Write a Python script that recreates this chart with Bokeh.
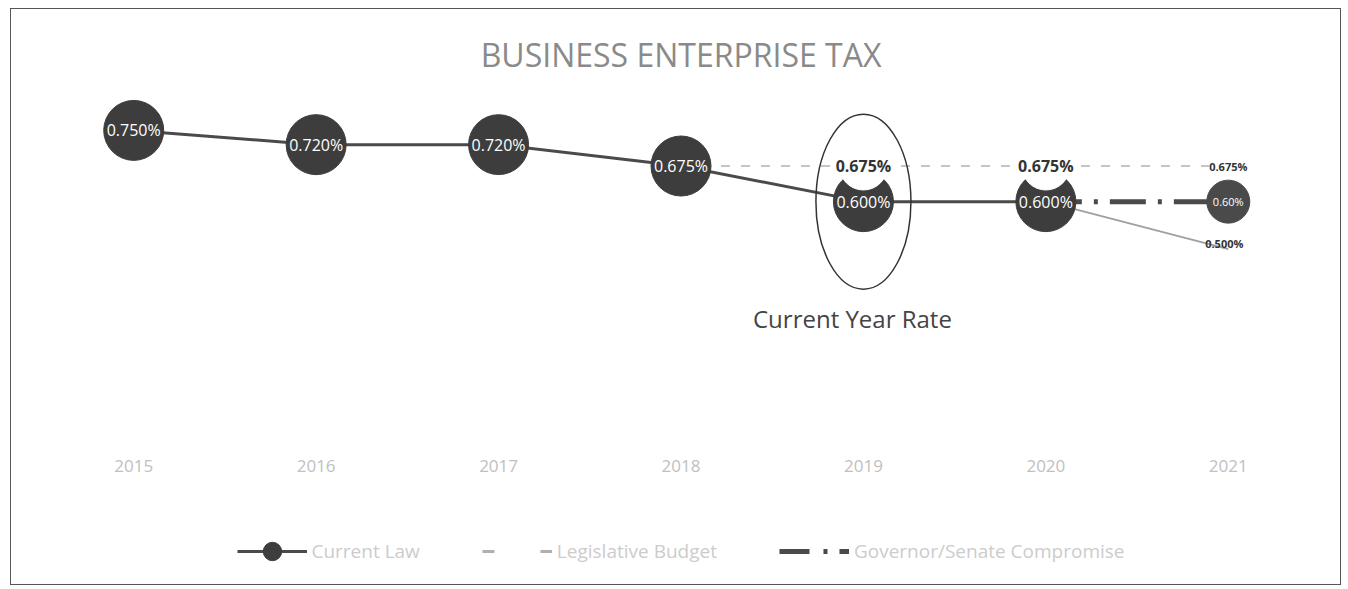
from bokeh.plotting import figure
from bokeh.layouts import column
from bokeh.models import ColumnDataSource, LabelSet, Legend, LegendItem
from bokeh.core.properties import value
from bokeh.embed import file_html
from bokeh.resources import INLINE

# ---- data ----
years = ["2015", "2016", "2017", "2018", "2019", "2020", "2021"]
current_law = [0.750, 0.720, 0.720, 0.675, 0.600, 0.600, 0.500]
legislative = [None, None, None, 0.675, 0.675, 0.675, 0.675]
governor = [None, None, None, None, None, 0.600, 0.600]
series_names = ["Current Law", "Legislative Budget", "Governor/Senate Compromise"]
title_text = "BUSINESS ENTERPRISE TAX"
note_text = "Current Year Rate"
note_year = "2019"

FONT = "Open Sans"
F = value(FONT)
DARK = "#3d3d3d"
LINE_DARK = "#4a4a4a"
W = 1329

# styles shared by plot and legend
cl_line_kw = dict(line_color=LINE_DARK, line_width=3)
cl_pt_kw = dict(marker="circle", fill_color=DARK, line_color=DARK)
leg_line_kw = dict(line_color="#c4c4c4", line_width=2, line_dash="9 11")
leg_pt_kw = dict(marker="circle", fill_color="white", line_color="white")
gov_line_kw = dict(line_color=LINE_DARK, line_width=5, line_dash="36 12 4 12")
gov_pt_kw = dict(marker="circle", fill_color=LINE_DARK, line_color=LINE_DARK)

p = figure(x_range=years, y_range=(0.076, 0.834), width=W, height=478,
           output_backend="svg", toolbar_location=None,
           min_border_left=31, min_border_right=21, min_border_top=81, min_border_bottom=37)
p.title.text = title_text
p.title.align = "center"
p.title.text_font = FONT
p.title.text_font_size = "32px"
p.title.text_font_style = "normal"
p.title.text_color = "#8a8a8a"
p.title.standoff = 30

p.yaxis.visible = False
p.xaxis.axis_line_color = None
p.xaxis.major_tick_line_color = None
p.xaxis.minor_tick_line_color = None
p.xaxis.major_label_text_color = "#c0c0c0"
p.xaxis.major_label_text_font = FONT
p.xaxis.major_label_text_font_size = "17px"
p.xaxis.major_label_standoff = 3
p.xgrid.grid_line_color = None
p.ygrid.grid_line_color = None
p.outline_line_color = None

# legislative budget (dashed light grey)
leg_x = [y for y, v in zip(years, legislative) if v is not None]
leg_y = [v for v in legislative if v is not None]
p.line(leg_x, leg_y, **leg_line_kw)

# governor/senate compromise (dash-dot dark)
gov_x = [y for y, v in zip(years, governor) if v is not None]
gov_y = [v for v in governor if v is not None]
p.line(gov_x, gov_y, **gov_line_kw)

# current law: tail to 2021 lighter, main line with markers
p.line(years[5:], current_law[5:], line_color="#a0a0a0", line_width=2)
p.line(years[:6], current_law[:6], **cl_line_kw)
p.scatter(years[:6], current_law[:6], size=60, **cl_pt_kw)
p.scatter(gov_x[-1:], gov_y[-1:], size=43, **gov_pt_kw)
# legislative markers (white) over the current-law circles
p.scatter(leg_x[1:3], leg_y[1:3], size=48, **leg_pt_kw)

# annotation ellipse + text
idx = years.index(note_year)
p.ellipse(x=[note_year], y=[current_law[idx]], width=95, height=175,
          width_units="screen", height_units="screen",
          fill_color=None, line_color="#333333", line_width=1.5)
p.text(x=[note_year], y=[current_law[idx]], text=[note_text], x_offset=-11, y_offset=117,
       text_font=F, text_font_size="24px", text_color="#444444",
       text_align="center", text_baseline="middle")

# labels
cl_src = ColumnDataSource(dict(x=years[:6], y=current_law[:6],
                               t=[f"{v:.3f}%" for v in current_law[:6]]))
p.add_layout(LabelSet(x="x", y="y", text="t", source=cl_src, text_align="center",
                      text_baseline="middle", text_color="white", text_font=F,
                      text_font_size="16px"))
tail_src = ColumnDataSource(dict(x=years[6:], y=current_law[6:],
                                 t=[f"{v:.3f}%" for v in current_law[6:]]))
p.add_layout(LabelSet(x="x", y="y", text="t", source=tail_src, text_align="center",
                      text_baseline="middle", text_color="#333333", text_font=F,
                      text_font_size="11px", text_font_style="bold", x_offset=-4, y_offset=6))
leg_src = ColumnDataSource(dict(x=leg_x[1:3], y=leg_y[1:3],
                                t=[f"{v:.3f}%" for v in leg_y[1:3]]))
p.add_layout(LabelSet(x="x", y="y", text="t", source=leg_src, text_align="center",
                      text_baseline="middle", text_color="#333333", text_font=F,
                      text_font_size="16px", text_font_style="bold"))
leg_src2 = ColumnDataSource(dict(x=leg_x[3:], y=leg_y[3:],
                                 t=[f"{v:.3f}%" for v in leg_y[3:]]))
p.add_layout(LabelSet(x="x", y="y", text="t", source=leg_src2, text_align="center",
                      text_baseline="middle", text_color="#333333", text_font=F,
                      text_font_size="11px", text_font_style="bold",
                      background_fill_color="white"))
gov_src = ColumnDataSource(dict(x=gov_x[-1:], y=gov_y[-1:],
                                t=[f"{v:.2f}%" for v in gov_y[-1:]]))
p.add_layout(LabelSet(x="x", y="y", text="t", source=gov_src, text_align="center",
                      text_baseline="middle", text_color="white", text_font=F,
                      text_font_size="11px"))

# legend strip (own small figure; proxy glyphs lie outside its ranges)
lg = figure(width=W, height=97, output_backend="svg", toolbar_location=None,
            min_border_left=0, min_border_right=0, min_border_top=30, min_border_bottom=0,
            x_range=(0, 1), y_range=(0, 1))
lg.axis.visible = False
lg.grid.visible = False
lg.outline_line_color = None
px, py = [5, 6], [5, 5]
a = lg.line(px, py, **cl_line_kw)
b = lg.scatter(px, py, size=20, **cl_pt_kw)
c = lg.line(px, py, line_color="#b0b0b0", line_width=3, line_dash="12 46")
d = lg.line(px, py, line_color=LINE_DARK, line_width=5, line_dash="30 14 4 12")
legend = Legend(items=[
    LegendItem(label=series_names[0], renderers=[a, b]),
    LegendItem(label=series_names[1], renderers=[c]),
    LegendItem(label=series_names[2], renderers=[d]),
], orientation="horizontal", location="center")
legend.label_text_font = FONT
legend.label_text_font_size = "19px"
legend.label_text_color = "#cccccc"
legend.glyph_width = 70
legend.glyph_height = 46
legend.spacing = 62
legend.label_standoff = 5
legend.border_line_color = None
legend.background_fill_alpha = 0
lg.add_layout(legend)

page = column(p, lg, spacing=0,
              styles={"border": "1px solid #555", "margin": "8px 0 0 10px"})
open("out.html", "w").write(file_html(page, INLINE))
